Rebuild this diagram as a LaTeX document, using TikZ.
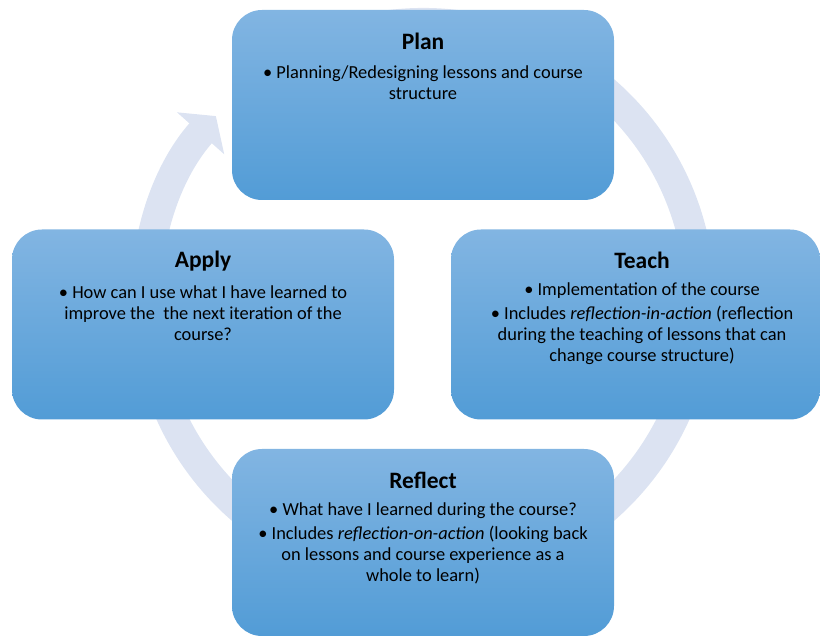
\documentclass[tikz,border=0pt]{standalone}
\usepackage{fontspec}
\setmainfont{Carlito}
\usetikzlibrary{arrows.meta}
\definecolor{boxtop}{RGB}{130,181,226}
\definecolor{boxbot}{RGB}{82,156,214}
\definecolor{ringblue}{RGB}{220,227,242}
\begin{document}
\begin{tikzpicture}[x=1pt,y=1pt,
  box/.style={rounded corners=30pt,top color=boxtop,bottom color=boxbot,minimum width=382pt,minimum height=190pt,inner sep=0pt},
  head/.style={font=\bfseries\fontsize{23.5}{27}\selectfont},
  body/.style={font=\fontsize{18.4}{21}\selectfont,align=center}]
\useasboundingbox (0,0) rectangle (820,636);
% Ring arrow behind the boxes (tail hidden under Plan)
\coordinate (hub) at (423,336);
\draw[ringblue,line width=30pt,-{Triangle[width=62pt,length=23pt]}]
  ([shift={(100:277)}]hub) arc[start angle=100,end angle=-221.6,radius=277];
% Plan
\node[box] (plan) at (423,531) {};
\node[head] (planhead) at (423,595) {Plan};
\node[body] (plantext) at (423,553.5) {\textbullet\ Planning/Redesigning lessons and course\\structure};
% Teach
\node[box,minimum width=369pt] (teach) at (635.5,311.5) {};
\node[head] (teachhead) at (642,376) {Teach};
\node[body] (teachtext) at (642,312) {\textbullet\ Implementation of the course\\[3pt]
  \textbullet\ Includes \textit{reflection-in-action} (reflection\\during the teaching of lessons that can\\change course structure)};
% Apply
\node[box] (apply) at (203,311.5) {};
\node[head] (applyhead) at (203,375) {Apply};
\node[body] (applytext) at (203,323) {\textbullet\ How can I use what I have learned to\\improve the~ the next iteration of the\\course?};
% Reflect
\node[box,minimum height=187pt] (reflect) at (423,93.5) {};
\node[head] (reflecthead) at (423,156) {Reflect};
\node[body] (reflecttext) at (423,92.5) {\textbullet\ What have I learned during the course?\\[3pt]
  \textbullet\ Includes \textit{reflection-on-action} (looking back\\on lessons and course experience as a\\whole to learn)};
\end{tikzpicture}
\end{document}
